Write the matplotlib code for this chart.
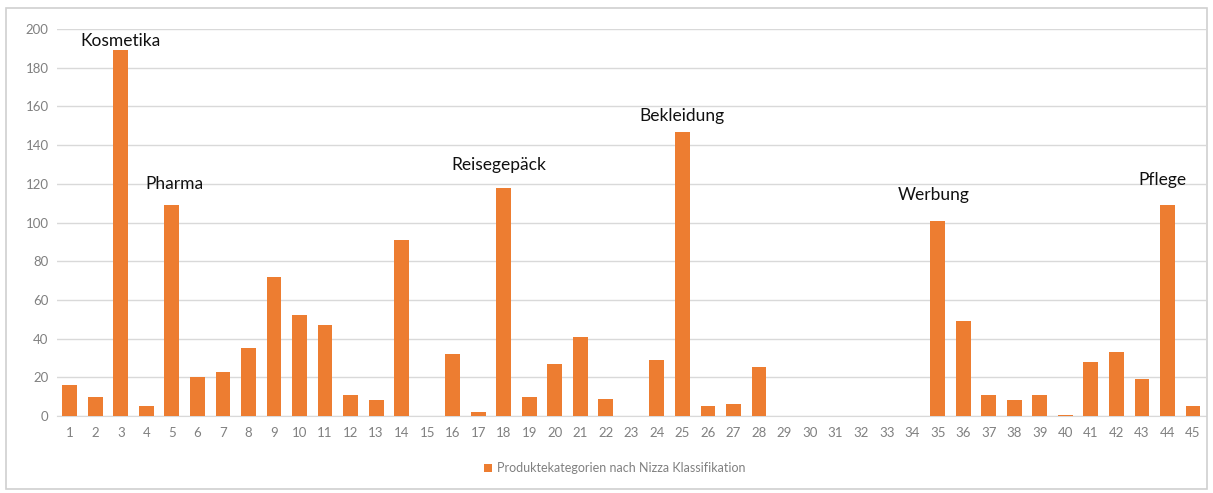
import matplotlib
matplotlib.use('Agg')
import matplotlib.pyplot as plt
import numpy as np

# Nizza classes 1..45 and number of registrations per class
classes = list(range(1, 46))
counts = [16, 10, 189, 5, 109, 20, 23, 35, 72, 52,
          47, 11, 8.5, 91, 0, 32, 2, 118, 10, 27,
          41, 9, 0, 29, 147, 5, 6, 25.5, 0, 0,
          0, 0, 0, 0, 101, 49, 11, 8.5, 11, 0.5,
          28, 33, 19, 109, 5]

# category labels placed above selected bars (class, label, y)
label_classes = [3, 5, 18, 25, 35, 44]
label_texts = ['Kosmetika', 'Pharma', 'Reisegepäck', 'Bekleidung', 'Werbung', 'Pflege']
label_y = [194, 120, 130, 155, 114, 122]
label_dx = [0, 0.1, -0.2, 0, -0.15, -0.2]

series_name = 'Produktekategorien nach Nizza Klassifikation'

plt.rcParams['font.family'] = ['Lato', 'DejaVu Sans']

fig = plt.figure(figsize=(12.13, 4.93), dpi=100)
ax = fig.add_axes([0.047, 0.156, 0.947, 0.785])

x = np.arange(len(classes))
ax.bar(x, counts, width=0.58, color='#ED7D31', label=series_name, zorder=3)

ax.set_xlim(-0.5, len(classes) - 0.5)
ax.set_ylim(0, 200)
ax.set_yticks(np.arange(0, 201, 20))
ax.set_xticks(x)
ax.set_xticklabels([str(c) for c in classes])
ax.tick_params(axis='both', length=0, colors='#808080', labelsize=9.5)
ax.tick_params(axis='x', pad=8)
ax.tick_params(axis='y', pad=6)
ax.grid(axis='y', color='#D9D9D9', linewidth=1, zorder=0)
for s in ['top', 'right', 'left']:
    ax.spines[s].set_visible(False)
ax.spines['bottom'].set_color('#D9D9D9')

for c, t, y, dx in zip(label_classes, label_texts, label_y, label_dx):
    ax.text(c - 1 + dx, y, t, ha='center', va='center', fontsize=12.5, color='#111111')

fig.legend(loc='center', bbox_to_anchor=(0.507, 0.05), frameon=False,
           fontsize=9, handlelength=0.6, handleheight=0.6, handletextpad=0.4,
           labelcolor='#808080')

# chart area border
fig.patches.append(plt.Rectangle((0.005, 0.008), 0.99, 0.976, transform=fig.transFigure,
                                 fill=False, edgecolor='#D0D0D0', linewidth=1.2))

fig.savefig('out.png', dpi=100)
